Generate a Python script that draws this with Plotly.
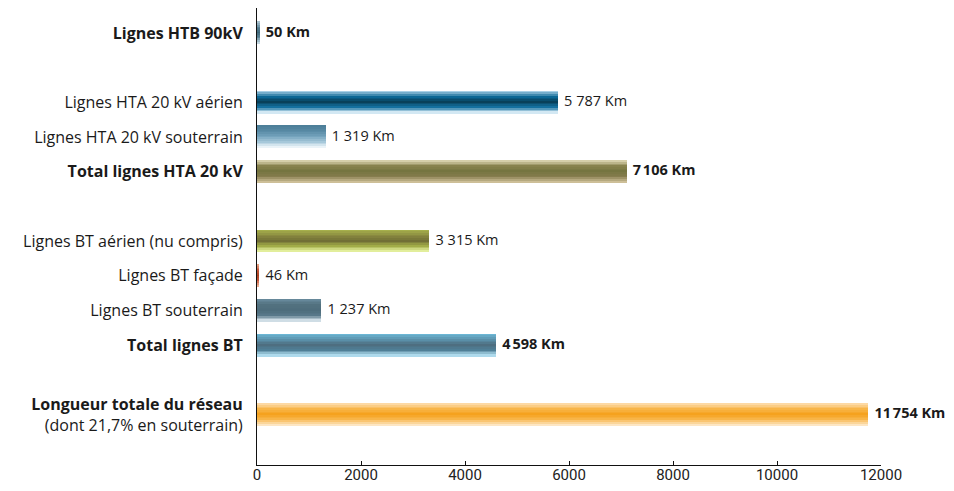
import plotly.graph_objects as go

# ---------------- data ----------------
categories = [
    "Lignes HTB 90kV", "gap1",
    "Lignes HTA 20 kV aérien", "Lignes HTA 20 kV souterrain", "Total lignes HTA 20 kV", "gap2",
    "Lignes BT aérien (nu compris)", "Lignes BT façade", "Lignes BT souterrain", "Total lignes BT", "gap3",
    "Longueur totale du réseau",
]
tick_labels = [
    "<b>Lignes HTB 90kV</b>", "",
    "Lignes HTA 20 kV aérien", "Lignes HTA 20 kV souterrain", "<b>Total lignes HTA 20 kV</b>", "",
    "Lignes BT aérien (nu compris)", "Lignes BT façade", "Lignes BT souterrain", "<b>Total lignes BT</b>", "",
    "<b>Longueur totale du réseau</b><br>(dont 21,7% en souterrain)",
]
bar_categories = [
    "Lignes HTB 90kV", "Lignes HTA 20 kV aérien", "Lignes HTA 20 kV souterrain", "Total lignes HTA 20 kV",
    "Lignes BT aérien (nu compris)", "Lignes BT façade", "Lignes BT souterrain", "Total lignes BT",
    "Longueur totale du réseau",
]
values_km = [50, 5787, 1319, 7106, 3315, 46, 1237, 4598, 11754]
bold_value = [True, False, False, True, False, False, False, True, True]
x_ticks = [0, 2000, 4000, 6000, 8000, 10000, 12000]

# gradient colour stops (top -> bottom) for each bar
gradients = [
    ["#a9c3d0", "#5a8296", "#3e6678", "#5f8799", "#c4d8e2"],
    ["#a8d0e6", "#0b6794", "#08405a", "#14709f", "#d3e8f3"],
    ["#4d7f99", "#5a8ca7", "#75a4bd", "#a6c8da", "#eaf3f8"],
    ["#d6cfaa", "#88824e", "#757540", "#867d4e", "#cdbf98"],
    ["#a6b04c", "#8a8a40", "#716f36", "#a2ac48", "#e2ee9c"],
    ["#e8a080", "#c8583a", "#a8401f", "#c8583a", "#eeb094"],
    ["#66889a", "#52717f", "#4e6d7c", "#587889", "#cfdde5"],
    ["#6cb6d4", "#5a8fa8", "#4e6e80", "#4f7f96", "#aedaec"],
    ["#fdd9a4", "#f8b548", "#f5a21e", "#f8b548", "#fde6c3"],
]

# ---------------- helpers ----------------
def hex_to_rgb(h):
    h = h.lstrip("#")
    return [int(h[i:i + 2], 16) for i in (0, 2, 4)]

def interp_color(stops, t):
    n = len(stops) - 1
    pos = t * n
    i = min(int(pos), n - 1)
    f = pos - i
    a, b = hex_to_rgb(stops[i]), hex_to_rgb(stops[i + 1])
    c = [round(a[k] + (b[k] - a[k]) * f) for k in range(3)]
    return "rgb({},{},{})".format(*c)

FONT = "Open Sans, Roboto, sans-serif"
N_STRIPS = 13
BAR_THICK = 0.64
strip_w = BAR_THICK / N_STRIPS

fig = go.Figure()
for s in range(N_STRIPS):
    t = s / (N_STRIPS - 1)
    colors = [interp_color(g, t) for g in gradients]
    fig.add_trace(go.Bar(
        x=values_km, y=bar_categories, orientation="h",
        width=strip_w * 1.08, offset=-BAR_THICK / 2 + s * strip_w,
        marker=dict(color=colors, line=dict(width=0)),
        hoverinfo="skip", showlegend=False,
    ))

def fmt(v, b):
    s = "{:,}".format(v).replace(",", "\u202f" if b else " ") + " Km"
    pad = "\u00a0\u2009"
    return pad + "<b>" + s + "</b>" if b else pad + s

fig.add_trace(go.Scatter(
    x=values_km, y=bar_categories, mode="text",
    text=[fmt(v, b) for v, b in zip(values_km, bold_value)],
    textposition="middle right",
    textfont=dict(family=FONT, size=14.5, color="#1a1a1a"),
    cliponaxis=False, showlegend=False, hoverinfo="skip",
))

fig.update_layout(
    width=946, height=475,
    margin=dict(l=249, r=73, t=0, b=18, autoexpand=False),
    paper_bgcolor="white", plot_bgcolor="white",
    barmode="overlay", bargap=0,
    font=dict(family=FONT, size=15, color="#1a1a1a"),
    xaxis=dict(
        range=[0, 12000], tickvals=x_ticks, ticktext=[str(v) for v in x_ticks],
        showgrid=False, zeroline=False, showline=True, linecolor="#111", linewidth=1,
        ticks="inside", ticklen=4, tickcolor="#111",
        ticklabelstandoff=-4, automargin=False,
        tickfont=dict(family="Roboto, sans-serif", size=15, color="#222"),
    ),
    yaxis=dict(
        type="category", categoryorder="array", categoryarray=categories,
        tickvals=categories, ticktext=tick_labels,
        range=[12.45, -0.72], automargin=False,
        showgrid=False, zeroline=False, showline=True, linecolor="#111", linewidth=1,
        ticks="", ticklabelstandoff=10,
        tickfont=dict(family=FONT, size=16, color="#1a1a1a"),
    ),
)

fig.write_html("out.html")
